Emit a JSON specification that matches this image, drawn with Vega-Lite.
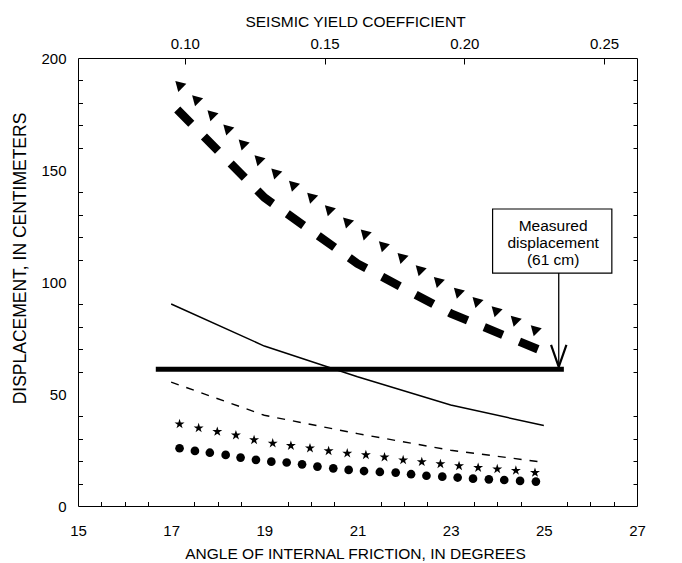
{
  "$schema": "https://vega.github.io/schema/vega-lite/v6.json",
  "width": 559,
  "height": 448,
  "autosize": {"type": "none"},
  "padding": {"left": 78, "top": 58, "right": 45, "bottom": 57},
  "background": "white",
  "config": {
    "view": {"stroke": "#000000", "strokeWidth": 1},
    "axis": {
      "domain": false,
      "grid": false,
      "labelFont": "Liberation Sans",
      "labelFontSize": 15,
      "labelColor": "#000000",
      "titleFont": "Liberation Sans",
      "titleFontSize": 15.5,
      "titleFontWeight": "normal",
      "titleColor": "#000000",
      "tickColor": "#000000",
      "tickWidth": 1,
      "labelFlush": false,
      "labelOverlap": false
    }
  },
  "datasets": {
    "axisx": [{"angle": 20}],
    "axisy": [{"disp": 100}],
    "axiscoef": [{"coef": 0.15}],
    "tri": [
      {"angle": 17.18, "disp": 187.0}, {"angle": 17.54, "disp": 180.6}, {"angle": 17.87, "disp": 173.9},
      {"angle": 18.21, "disp": 167.5}, {"angle": 18.54, "disp": 160.8}, {"angle": 18.88, "disp": 153.8},
      {"angle": 19.24, "disp": 147.9}, {"angle": 19.62, "disp": 142.4}, {"angle": 20.01, "disp": 137.1},
      {"angle": 20.39, "disp": 131.5}, {"angle": 20.78, "disp": 126.0}, {"angle": 21.16, "disp": 120.7},
      {"angle": 21.55, "disp": 115.4}, {"angle": 21.95, "disp": 110.2}, {"angle": 22.34, "disp": 104.7},
      {"angle": 22.73, "disp": 99.5}, {"angle": 23.16, "disp": 94.7}, {"angle": 23.56, "disp": 90.5},
      {"angle": 23.97, "disp": 86.4}, {"angle": 24.38, "disp": 82.1}, {"angle": 24.81, "disp": 77.9}
    ],
    "band": [
      {"angle": 17.13, "disp": 177.0}, {"angle": 19.0, "disp": 137.7}, {"angle": 21.0, "disp": 108.2},
      {"angle": 23.0, "disp": 86.0}, {"angle": 24.88, "disp": 69.9}
    ],
    "solid": [
      {"angle": 17, "disp": 90.2}, {"angle": 19, "disp": 71.4}, {"angle": 21, "disp": 57.7},
      {"angle": 23, "disp": 45.1}, {"angle": 25, "disp": 35.9}
    ],
    "dashed": [
      {"angle": 17, "disp": 55.3}, {"angle": 19, "disp": 40.5}, {"angle": 21, "disp": 32.3},
      {"angle": 23, "disp": 24.9}, {"angle": 25, "disp": 19.5}
    ],
    "stars": [
      {"angle": 17.18, "disp": 36.6}, {"angle": 17.59, "disp": 34.8}, {"angle": 17.99, "disp": 33.2},
      {"angle": 18.39, "disp": 31.6}, {"angle": 18.78, "disp": 29.5}, {"angle": 19.18, "disp": 28.0},
      {"angle": 19.57, "disp": 26.9}, {"angle": 19.98, "disp": 25.8}, {"angle": 20.38, "disp": 24.6},
      {"angle": 20.78, "disp": 23.5}, {"angle": 21.18, "disp": 22.8}, {"angle": 21.58, "disp": 21.8},
      {"angle": 21.98, "disp": 20.5}, {"angle": 22.38, "disp": 19.7}, {"angle": 22.78, "disp": 18.8},
      {"angle": 23.18, "disp": 17.9}, {"angle": 23.59, "disp": 17.1}, {"angle": 24.0, "disp": 16.5},
      {"angle": 24.4, "disp": 15.8}, {"angle": 24.81, "disp": 14.9}
    ],
    "dots": [
      {"angle": 17.18, "disp": 25.8}, {"angle": 17.51, "disp": 24.6}, {"angle": 17.83, "disp": 23.8},
      {"angle": 18.17, "disp": 22.8}, {"angle": 18.49, "disp": 21.6}, {"angle": 18.82, "disp": 20.6},
      {"angle": 19.15, "disp": 19.8}, {"angle": 19.48, "disp": 19.4}, {"angle": 19.81, "disp": 18.6},
      {"angle": 20.14, "disp": 17.6}, {"angle": 20.48, "disp": 16.8}, {"angle": 20.81, "disp": 16.1},
      {"angle": 21.14, "disp": 15.6}, {"angle": 21.48, "disp": 15.2}, {"angle": 21.82, "disp": 14.9},
      {"angle": 22.15, "disp": 14.2}, {"angle": 22.48, "disp": 13.5}, {"angle": 22.82, "disp": 13.1},
      {"angle": 23.15, "disp": 12.7}, {"angle": 23.48, "disp": 12.2}, {"angle": 23.82, "disp": 11.9},
      {"angle": 24.15, "disp": 11.6}, {"angle": 24.49, "disp": 11.2}, {"angle": 24.83, "disp": 10.9}
    ],
    "measured": [{"start": 16.67, "end": 25.43, "disp": 61}],
    "arrow": [{"angle": 25.32, "tip": 62.3, "head": 67.0, "top": 104.0}],
    "note": [{"left": 23.9, "right": 26.46, "top": 132.6, "bottom": 104.0, "cx": 25.2, "cy": 125.0, "label": "Measured\ndisplacement\n(61 cm)"}]
  },
  "layer": [
    {
      "data": {"name": "axisx"},
      "mark": {"type": "point", "opacity": 0},
      "encoding": {
        "x": {"field": "angle", "type": "quantitative", "scale": {"domain": [15, 27], "nice": false, "zero": false},
          "axis": {"orient": "bottom", "values": [15, 17, 19, 21, 23, 25, 27], "ticks": false, "tickSize": 0,
            "labelPadding": 24, "labelBaseline": "middle",
            "title": "ANGLE OF INTERNAL FRICTION, IN DEGREES", "titleX": 277, "titleY": 47,
            "titleBaseline": "middle", "titleAlign": "center"}}
      }
    },
    {
      "data": {"name": "axisx"},
      "mark": {"type": "point", "opacity": 0},
      "encoding": {
        "x": {"field": "angle", "type": "quantitative", "scale": {"domain": [15, 27], "nice": false, "zero": false},
          "axis": {"orient": "bottom", "values": [15.5, 16, 16.5, 17.5, 18, 18.5, 19.5, 20, 20.5, 21.5, 22, 22.5, 23.5, 24, 24.5, 25.5, 26, 26.5],
            "labels": false, "tickSize": 4.5, "offset": -4.5, "title": null}}
      }
    },
    {
      "data": {"name": "axiscoef"},
      "mark": {"type": "point", "opacity": 0},
      "encoding": {
        "x": {"field": "coef", "type": "quantitative", "scale": {"domain": [0.0618, 0.2618], "nice": false, "zero": false},
          "axis": {"orient": "top", "values": [0.1, 0.15, 0.2, 0.25], "format": ".2f", "ticks": false, "tickSize": 0,
            "labelPadding": 15, "labelBaseline": "middle",
            "title": "SEISMIC YIELD COEFFICIENT", "titleX": 277, "titleY": -37,
            "titleBaseline": "middle", "titleAlign": "center"}}
      }
    },
    {
      "data": {"name": "axiscoef"},
      "mark": {"type": "point", "opacity": 0},
      "encoding": {
        "x": {"field": "coef", "type": "quantitative", "scale": {"domain": [0.0618, 0.2618], "nice": false, "zero": false},
          "axis": {"orient": "top", "values": [0.1, 0.15, 0.2, 0.25], "labels": false, "tickSize": 6, "offset": -6, "title": null}}
      }
    },
    {
      "data": {"name": "axisy"},
      "mark": {"type": "point", "opacity": 0},
      "encoding": {
        "y": {"field": "disp", "type": "quantitative", "scale": {"domain": [0, 200], "nice": false},
          "axis": {"orient": "left", "values": [0, 50, 100, 150, 200], "ticks": false, "tickSize": 0,
            "labelPadding": 12, "labelBaseline": "middle",
            "title": "DISPLACEMENT, IN CENTIMETERS", "titleX": -58, "titleY": 200, "titleAngle": 270,
            "titleFontSize": 17.5, "titleBaseline": "middle", "titleAlign": "center"}}
      }
    },
    {
      "data": {"name": "axisy"},
      "mark": {"type": "point", "opacity": 0},
      "encoding": {
        "y": {"field": "disp", "type": "quantitative", "scale": {"domain": [0, 200], "nice": false},
          "axis": {"orient": "left", "values": [10, 20, 30, 40, 60, 70, 80, 90, 110, 120, 130, 140, 160, 170, 180, 190],
            "labels": false, "tickSize": 4.5, "offset": -4.5, "title": null}}
      }
    },
    {
      "data": {"name": "axisy"},
      "mark": {"type": "point", "opacity": 0},
      "encoding": {
        "y": {"field": "disp", "type": "quantitative", "scale": {"domain": [0, 200], "nice": false},
          "axis": {"orient": "right", "values": [10, 20, 30, 40, 60, 70, 80, 90, 110, 120, 130, 140, 160, 170, 180, 190],
            "labels": false, "tickSize": 4, "offset": -4, "title": null}}
      }
    },
    {
      "data": {"name": "band"},
      "mark": {"type": "line", "color": "#000000", "strokeWidth": 8.5, "strokeDash": [20, 18], "strokeCap": "butt"},
      "encoding": {
        "x": {"field": "angle", "type": "quantitative", "scale": {"domain": [15, 27], "nice": false, "zero": false}, "axis": null},
        "y": {"field": "disp", "type": "quantitative", "scale": {"domain": [0, 200], "nice": false}, "axis": null}
      }
    },
    {
      "data": {"name": "solid"},
      "mark": {"type": "line", "color": "#000000", "strokeWidth": 1.5},
      "encoding": {
        "x": {"field": "angle", "type": "quantitative", "scale": {"domain": [15, 27], "nice": false, "zero": false}, "axis": null},
        "y": {"field": "disp", "type": "quantitative", "scale": {"domain": [0, 200], "nice": false}, "axis": null}
      }
    },
    {
      "data": {"name": "dashed"},
      "mark": {"type": "line", "color": "#000000", "strokeWidth": 1.4, "strokeDash": [8, 8]},
      "encoding": {
        "x": {"field": "angle", "type": "quantitative", "scale": {"domain": [15, 27], "nice": false, "zero": false}, "axis": null},
        "y": {"field": "disp", "type": "quantitative", "scale": {"domain": [0, 200], "nice": false}, "axis": null}
      }
    },
    {
      "data": {"name": "tri"},
      "mark": {"type": "point", "shape": "triangle-down", "filled": true, "color": "#000000", "size": 130, "angle": 15, "opacity": 1},
      "encoding": {
        "x": {"field": "angle", "type": "quantitative", "scale": {"domain": [15, 27], "nice": false, "zero": false}, "axis": null},
        "y": {"field": "disp", "type": "quantitative", "scale": {"domain": [0, 200], "nice": false}, "axis": null}
      }
    },
    {
      "data": {"name": "stars"},
      "mark": {"type": "point", "shape": "M0,-1L0.225,-0.309L0.951,-0.309L0.363,0.118L0.588,0.809L0,0.382L-0.588,0.809L-0.363,0.118L-0.951,-0.309L-0.225,-0.309Z", "filled": true, "color": "#000000", "size": 110, "opacity": 1},
      "encoding": {
        "x": {"field": "angle", "type": "quantitative", "scale": {"domain": [15, 27], "nice": false, "zero": false}, "axis": null},
        "y": {"field": "disp", "type": "quantitative", "scale": {"domain": [0, 200], "nice": false}, "axis": null}
      }
    },
    {
      "data": {"name": "dots"},
      "mark": {"type": "point", "shape": "circle", "filled": true, "color": "#000000", "size": 75, "opacity": 1},
      "encoding": {
        "x": {"field": "angle", "type": "quantitative", "scale": {"domain": [15, 27], "nice": false, "zero": false}, "axis": null},
        "y": {"field": "disp", "type": "quantitative", "scale": {"domain": [0, 200], "nice": false}, "axis": null}
      }
    },
    {
      "data": {"name": "measured"},
      "mark": {"type": "rule", "color": "#000000", "strokeWidth": 5, "strokeCap": "butt"},
      "encoding": {
        "x": {"field": "start", "type": "quantitative", "scale": {"domain": [15, 27], "nice": false, "zero": false}, "axis": null},
        "x2": {"field": "end"},
        "y": {"field": "disp", "type": "quantitative", "scale": {"domain": [0, 200], "nice": false}, "axis": null}
      }
    },
    {
      "data": {"name": "arrow"},
      "mark": {"type": "rule", "color": "#000000", "strokeWidth": 1.3},
      "encoding": {
        "x": {"field": "angle", "type": "quantitative", "scale": {"domain": [15, 27], "nice": false, "zero": false}, "axis": null},
        "y": {"field": "tip", "type": "quantitative", "scale": {"domain": [0, 200], "nice": false}, "axis": null},
        "y2": {"field": "top"}
      }
    },
    {
      "data": {"name": "arrow"},
      "mark": {"type": "point", "shape": "M-0.7,-1L0,1L0.7,-1", "filled": false, "stroke": "#000000", "strokeWidth": 2.2, "size": 484, "opacity": 1},
      "encoding": {
        "x": {"field": "angle", "type": "quantitative", "scale": {"domain": [15, 27], "nice": false, "zero": false}, "axis": null},
        "y": {"field": "head", "type": "quantitative", "scale": {"domain": [0, 200], "nice": false}, "axis": null}
      }
    },
    {
      "data": {"name": "note"},
      "mark": {"type": "rect", "fill": "#ffffff", "stroke": "#000000", "strokeWidth": 1.2},
      "encoding": {
        "x": {"field": "left", "type": "quantitative", "scale": {"domain": [15, 27], "nice": false, "zero": false}, "axis": null},
        "x2": {"field": "right"},
        "y": {"field": "top", "type": "quantitative", "scale": {"domain": [0, 200], "nice": false}, "axis": null},
        "y2": {"field": "bottom"}
      }
    },
    {
      "data": {"name": "note"},
      "mark": {"type": "text", "font": "Liberation Sans", "fontSize": 15.5, "lineHeight": 17, "lineBreak": "\n", "align": "center", "baseline": "middle", "color": "#000000"},
      "encoding": {
        "x": {"field": "cx", "type": "quantitative", "scale": {"domain": [15, 27], "nice": false, "zero": false}, "axis": null},
        "y": {"field": "cy", "type": "quantitative", "scale": {"domain": [0, 200], "nice": false}, "axis": null},
        "text": {"field": "label"}
      }
    }
  ],
  "resolve": {"scale": {"x": "independent"}, "axis": {"x": "independent", "y": "independent"}}
}
